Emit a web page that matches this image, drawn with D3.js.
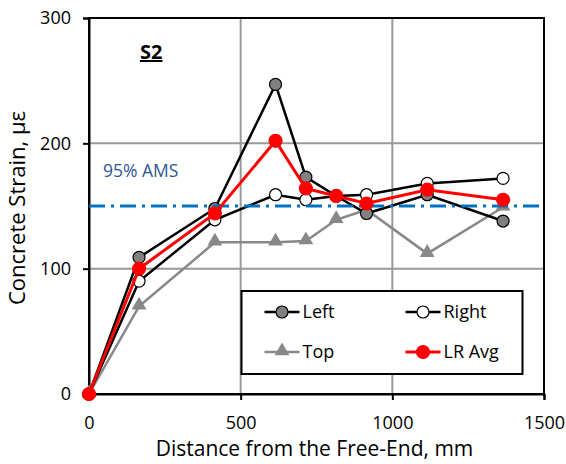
<!DOCTYPE html>
<html>
<head>
<meta charset="utf-8">
<script src="https://cdn.jsdelivr.net/npm/d3@7"></script>
<style>
  body { margin: 0; background: #fff; }
  text { font-family: "Open Sans", "Liberation Sans", sans-serif; fill: #000; }
</style>
</head>
<body>
<div id="chart"></div>
<script>
// distance from free end (mm)
var distance = [0, 165, 415, 615, 715, 815, 915, 1115, 1365];
var leftStrain = [0, 109, 148, 247, 173, 158, 144, 159, 138];
var rightStrain = [0, 90, 139, 159, 155, 158, 159, 168, 172];
var topStrain = [0, 70, 121, 121, 122, 139, 147, 112, 149];
var avgStrain = [0, 100, 144, 202, 164, 158, 152, 163, 155];
var amsLevel = 150;
var xTicks = [0, 500, 1000, 1500];
var yTicks = [0, 100, 200, 300];

var W = 566, H = 464;
var margin = {top: 18, right: 22, bottom: 70, left: 89};
var width = W - margin.left - margin.right,
    height = H - margin.top - margin.bottom;

var x = d3.scaleLinear().domain([0, 1500]).range([0, width]),
    y = d3.scaleLinear().domain([0, 300]).range([height, 0]);

var svg = d3.select("#chart").append("svg")
    .attr("width", W)
    .attr("height", H)
    .append("g")
    .attr("transform", "translate(" + margin.left + "," + margin.top + ")");

// grid
svg.selectAll(".vgrid")
    .data(xTicks.filter(function (d) { return d > 0 && d < 1500; }))
    .enter().append("line")
    .attr("x1", function (d) { return x(d); })
    .attr("x2", function (d) { return x(d); })
    .attr("y1", 0).attr("y2", height)
    .attr("stroke", "#999").attr("stroke-width", 2);

svg.selectAll(".hgrid")
    .data(yTicks.filter(function (d) { return d > 0 && d < 300; }))
    .enter().append("line")
    .attr("y1", function (d) { return y(d); })
    .attr("y2", function (d) { return y(d); })
    .attr("x1", 0).attr("x2", width)
    .attr("stroke", "#999").attr("stroke-width", 2);

// frame
svg.append("rect")
    .attr("width", width).attr("height", height)
    .attr("fill", "none").attr("stroke", "#000").attr("stroke-width", 2);

// axes
var xAxis = svg.append("g")
    .attr("transform", "translate(0," + height + ")")
    .call(d3.axisBottom(x).tickValues(xTicks).tickSize(6).tickPadding(16).tickFormat(d3.format("d")));
var yAxis = svg.append("g")
    .call(d3.axisLeft(y).tickValues(yTicks).tickSize(6).tickPadding(12).tickFormat(d3.format("d")));

[xAxis, yAxis].forEach(function (a) {
    a.select(".domain").attr("stroke", "#000").attr("stroke-width", 2);
    a.selectAll(".tick line").attr("stroke", "#000").attr("stroke-width", 2);
    a.selectAll(".tick text").style("font-size", "18px").attr("fill", "#000");
});

// axis titles
svg.append("text")
    .attr("x", width / 2 - 2)
    .attr("y", height + 62)
    .attr("text-anchor", "middle")
    .style("font-size", "21px")
    .text("Distance from the Free-End, mm");

svg.append("text")
    .attr("transform", "translate(" + (-64) + "," + (height / 2 + 2) + ")rotate(-90)")
    .attr("text-anchor", "middle")
    .style("font-size", "22px")
    .text("Concrete Strain, με");

// label S2
svg.append("text")
    .attr("x", x(205))
    .attr("y", 41)
    .attr("text-anchor", "middle")
    .style("font-size", "20px")
    .style("font-weight", "bold")
    .style("text-decoration", "underline")
    .text("S2");

svg.append("text")
    .attr("x", 14)
    .attr("y", 159)
    .style("fill", "#2F5597")
    .style("font-size", "17.5px")
    .text("95% AMS");

var line = d3.line()
    .x(function (d) { return x(d[0]); })
    .y(function (d) { return y(d[1]); });

function pairs(vals) {
    return distance.map(function (d, i) { return [d, vals[i]]; });
}

var tri = d3.symbol().type(d3.symbolTriangle).size(95);

// Top
svg.append("path").datum(pairs(topStrain))
    .attr("d", line).attr("fill", "none")
    .attr("stroke", "#888").attr("stroke-width", 2.5);
svg.selectAll(".top").data(pairs(topStrain)).enter().append("path")
    .attr("d", tri)
    .attr("transform", function (d) { return "translate(" + x(d[0]) + "," + (y(d[1]) - 1) + ")"; })
    .attr("fill", "#888");

function circleSeries(vals, stroke, sw, fill, r) {
    svg.append("path").datum(pairs(vals))
        .attr("d", line).attr("fill", "none")
        .attr("stroke", stroke).attr("stroke-width", sw);
    svg.append("g").selectAll("circle").data(pairs(vals)).enter().append("circle")
        .attr("cx", function (d) { return x(d[0]); })
        .attr("cy", function (d) { return y(d[1]); })
        .attr("r", r)
        .attr("fill", fill)
        .attr("stroke", stroke === "red" ? "red" : "#000")
        .attr("stroke-width", 1.2);
}

circleSeries(leftStrain, "#000", 2.5, "#808080", 6);
circleSeries(rightStrain, "#000", 2.5, "#fff", 6);

// 95% AMS line
svg.append("line")
    .attr("x1", 0).attr("x2", width)
    .attr("y1", y(amsLevel)).attr("y2", y(amsLevel))
    .attr("stroke", "#0070C0").attr("stroke-width", 3)
    .attr("stroke-dasharray", "16,6,3,6");

circleSeries(avgStrain, "red", 3, "red", 6.5);

// legend
var lg = svg.append("g").attr("transform", "translate(" + (241.5 - margin.left) + "," + (291 - margin.top) + ")");
lg.append("rect").attr("width", 281).attr("height", 83)
    .attr("fill", "#fff").attr("stroke", "#000").attr("stroke-width", 2);

var items = [
    {name: "Left", col: 0, row: 0, type: "c", stroke: "#000", fill: "#808080"},
    {name: "Right", col: 1, row: 0, type: "c", stroke: "#000", fill: "#fff"},
    {name: "Top", col: 0, row: 1, type: "t", stroke: "#888", fill: "#888"},
    {name: "LR Avg", col: 1, row: 1, type: "c", stroke: "red", fill: "red"}
];
items.forEach(function (it) {
    var g = lg.append("g").attr("transform", "translate(" + (23 + it.col * 141) + "," + (21 + it.row * 40) + ")");
    g.append("line").attr("x1", 0).attr("x2", 35).attr("y1", 0).attr("y2", 0)
        .attr("stroke", it.stroke).attr("stroke-width", it.name === "LR Avg" ? 3 : 2.5);
    if (it.type === "c") {
        g.append("circle").attr("cx", 17.5).attr("cy", 0).attr("r", it.name === "LR Avg" ? 6.5 : 6)
            .attr("fill", it.fill).attr("stroke", it.stroke === "red" ? "red" : "#000").attr("stroke-width", 1.2);
    } else {
        g.append("path").attr("d", tri).attr("transform", "translate(17.5,-1)").attr("fill", it.fill);
    }
    g.append("text").attr("x", 38).attr("y", 0).attr("dy", "0.35em")
        .style("font-size", "18px").text(it.name);
});
</script>
</body>
</html>
